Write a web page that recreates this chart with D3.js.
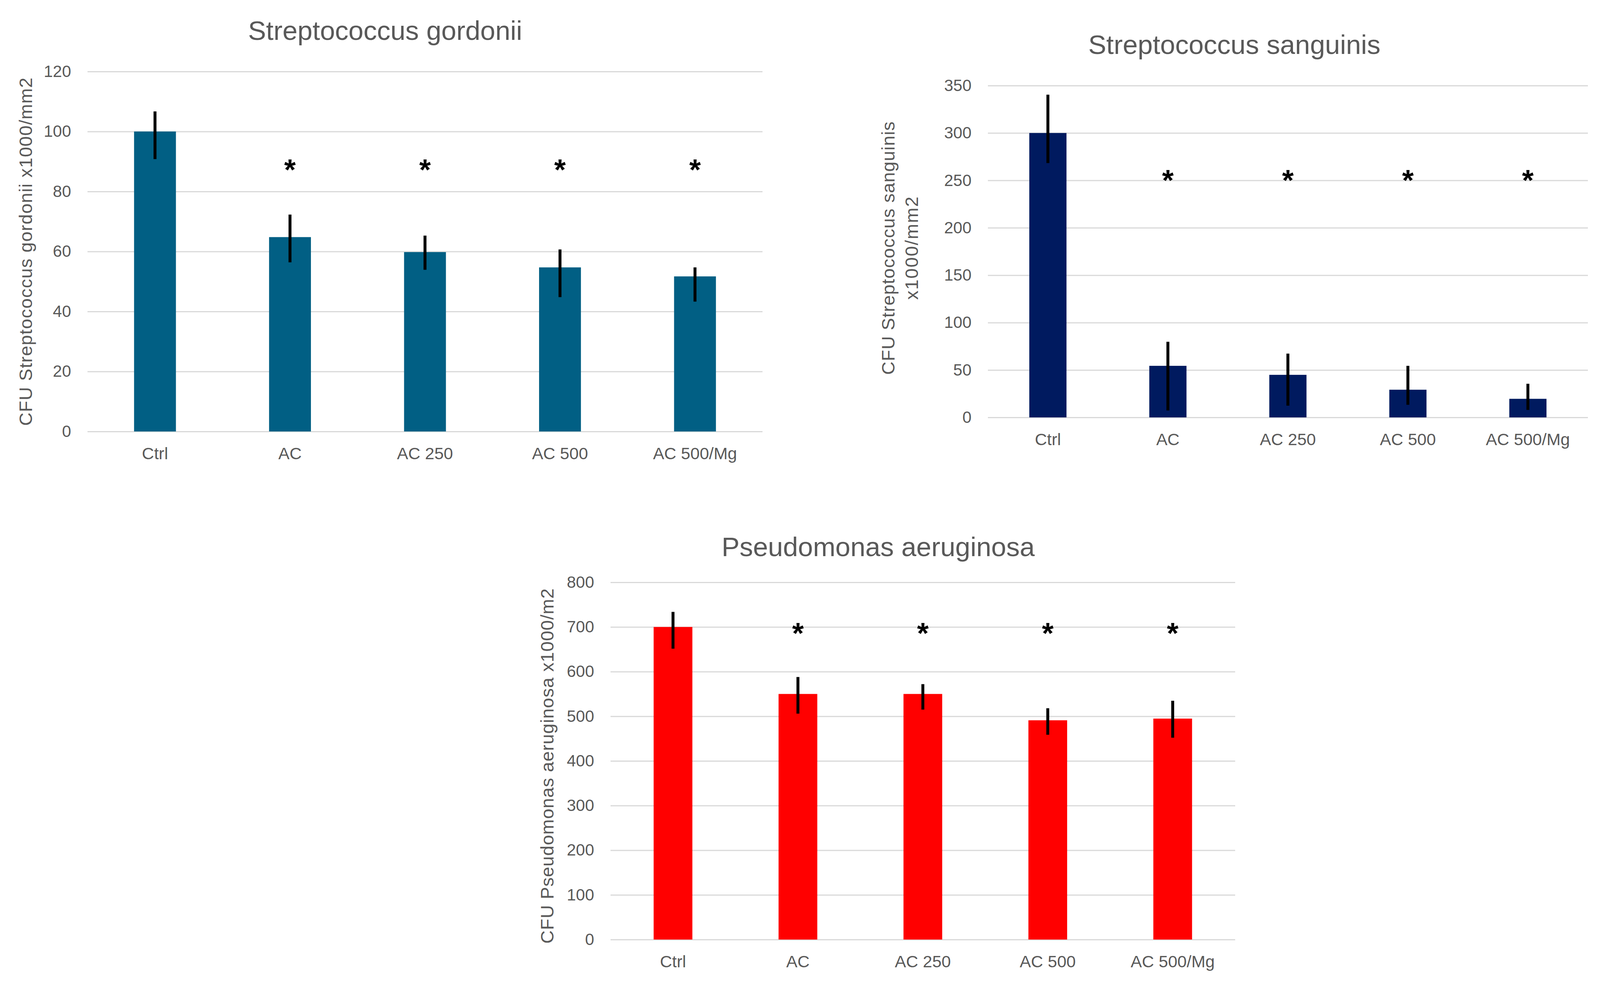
<!DOCTYPE html>
<html>
<head>
<meta charset="utf-8">
<script src="https://cdn.jsdelivr.net/npm/d3@7"></script>
<style>
  html, body { margin: 0; padding: 0; background: #ffffff; }
  svg { display: block; }
  text { font-family: "Liberation Sans", Arial, sans-serif; }
</style>
</head>
<body>
<svg id="chart" width="4109" height="2528"></svg>
<script>
// ---------- DATA ----------
const categories = ["Ctrl", "AC", "AC 250", "AC 500", "AC 500/Mg"];

const gordoniiTitle = "Streptococcus gordonii";
const gordoniiYLabel = ["CFU Streptococcus gordonii x1000/mm2"];
const gordoniiTicks = [0, 20, 40, 60, 80, 100, 120];
const gordoniiValues = [100, 64.8, 59.8, 54.7, 51.7];
const gordoniiUpper  = [106.7, 72.3, 65.3, 60.7, 54.7];
const gordoniiLower  = [90.8, 56.4, 53.9, 44.8, 43.3];
const gordoniiStars  = [null, 88.4, 88.4, 88.4, 88.4];

const sanguinisTitle = "Streptococcus sanguinis";
const sanguinisYLabel = ["CFU Streptococcus sanguinis", "x1000/mm2"];
const sanguinisTicks = [0, 50, 100, 150, 200, 250, 300, 350];
const sanguinisValues = [300, 54.4, 44.9, 29.2, 19.6];
const sanguinisUpper  = [340.4, 79.8, 67.3, 54.4, 35.5];
const sanguinisLower  = [268.3, 7.3, 12.4, 13.3, 7.9];
const sanguinisStars  = [null, 253.5, 253.5, 253.5, 253.5];

const aeruginosaTitle = "Pseudomonas aeruginosa";
const aeruginosaYLabel = ["CFU Pseudomonas aeruginosa x1000/m2"];
const aeruginosaTicks = [0, 100, 200, 300, 400, 500, 600, 700, 800];
const aeruginosaValues = [700, 550, 550, 491, 494.8];
const aeruginosaUpper  = [733.8, 588, 572, 518, 534.8];
const aeruginosaLower  = [651.4, 505.8, 515, 458.6, 452];
const aeruginosaStars  = [null, 693, 693, 693, 693];

// ---------- LAYOUT ----------
const TEXT = "#595959";
const GRID = "#d9d9d9";

const svg = d3.select("#chart");

function drawChart(cfg) {
  const g = svg.append("g");
  const rows = categories.map((c, i) => ({
    cat: c, v: cfg.values[i], hi: cfg.upper[i], lo: cfg.lower[i], star: cfg.stars[i]
  }));

  const x = d3.scaleBand().domain(categories)
    .range([cfg.x0, cfg.x1]).paddingInner(0.69).paddingOuter(0.345);
  const y = d3.scaleLinear().domain([0, d3.max(cfg.ticks)])
    .range([cfg.yBottom, cfg.yTop]);

  // gridlines + tick labels
  const yAxis = d3.axisLeft(y).tickValues(cfg.ticks).tickSize(-(cfg.x1 - cfg.x0)).tickPadding(42).tickFormat(d3.format("d"));
  const ya = g.append("g").attr("transform", `translate(${cfg.x0},0)`).call(yAxis);
  ya.select(".domain").remove();
  ya.selectAll(".tick line").attr("stroke", GRID).attr("stroke-width", 3);
  ya.selectAll(".tick text").attr("fill", TEXT).attr("font-size", 42)
    .attr("font-family", '"Liberation Sans", Arial, sans-serif');

  // x axis labels
  const xAxis = d3.axisBottom(x).tickSize(0).tickPadding(40);
  const xa = g.append("g").attr("transform", `translate(0,${cfg.yBottom})`).call(xAxis);
  xa.select(".domain").remove();
  xa.selectAll(".tick text").attr("fill", TEXT).attr("font-size", 43)
    .attr("font-family", '"Liberation Sans", Arial, sans-serif');

  // bars
  g.append("g").selectAll("rect").data(rows).join("rect")
    .attr("x", d => x(d.cat))
    .attr("width", x.bandwidth())
    .attr("y", d => y(d.v))
    .attr("height", d => y(0) - y(d.v))
    .attr("fill", cfg.color);

  // error bars
  g.append("g").selectAll("line").data(rows).join("line")
    .attr("x1", d => x(d.cat) + x.bandwidth() / 2)
    .attr("x2", d => x(d.cat) + x.bandwidth() / 2)
    .attr("y1", d => y(d.hi))
    .attr("y2", d => y(d.lo))
    .attr("stroke", "#000000").attr("stroke-width", 7.5);

  // significance stars
  const starSize = 76;
  g.append("g").selectAll("text").data(rows.filter(d => d.star != null)).join("text")
    .attr("x", d => x(d.cat) + x.bandwidth() / 2)
    .attr("y", d => y(d.star) + starSize * 0.58 - 10)
    .attr("text-anchor", "middle")
    .attr("font-size", starSize)
    .attr("font-weight", "bold")
    .attr("fill", "#000000")
    .text("*");

  // title
  g.append("text")
    .attr("x", cfg.titleX).attr("y", cfg.titleY)
    .attr("text-anchor", "middle").attr("font-size", 69).attr("fill", TEXT)
    .text(cfg.title);

  // y axis title (rotated, one or two lines)
  const yt = g.append("text")
    .attr("transform", `translate(${cfg.ytX},${cfg.ytY}) rotate(-90)`)
    .attr("text-anchor", "middle").attr("font-size", 47).attr("fill", TEXT);
  cfg.yLabel.forEach((line, i) => {
    yt.append("tspan").attr("x", 0).attr("y", i * 60)
      .attr("textLength", cfg.ytLen[i]).attr("lengthAdjust", "spacing")
      .text(line);
  });
}

drawChart({
  title: gordoniiTitle, yLabel: gordoniiYLabel, ticks: gordoniiTicks,
  values: gordoniiValues, upper: gordoniiUpper, lower: gordoniiLower, stars: gordoniiStars,
  color: "#015f84",
  x0: 224, x1: 1952, yBottom: 1104, yTop: 183,
  titleX: 986, titleY: 102,
  ytX: 82, ytY: 644, ytLen: [891]
});

drawChart({
  title: sanguinisTitle, yLabel: sanguinisYLabel, ticks: sanguinisTicks,
  values: sanguinisValues, upper: sanguinisUpper, lower: sanguinisLower, stars: sanguinisStars,
  color: "#001a5f",
  x0: 2529, x1: 4065, yBottom: 1068, yTop: 219,
  titleX: 3160, titleY: 138,
  ytX: 2290, ytY: 635, ytLen: [648, 264]
});

drawChart({
  title: aeruginosaTitle, yLabel: aeruginosaYLabel, ticks: aeruginosaTicks,
  values: aeruginosaValues, upper: aeruginosaUpper, lower: aeruginosaLower, stars: aeruginosaStars,
  color: "#ff0000",
  x0: 1563, x1: 3162, yBottom: 2404, yTop: 1490,
  titleX: 2248, titleY: 1423,
  ytX: 1417, ytY: 1960, ytLen: [909]
});
</script>
</body>
</html>
